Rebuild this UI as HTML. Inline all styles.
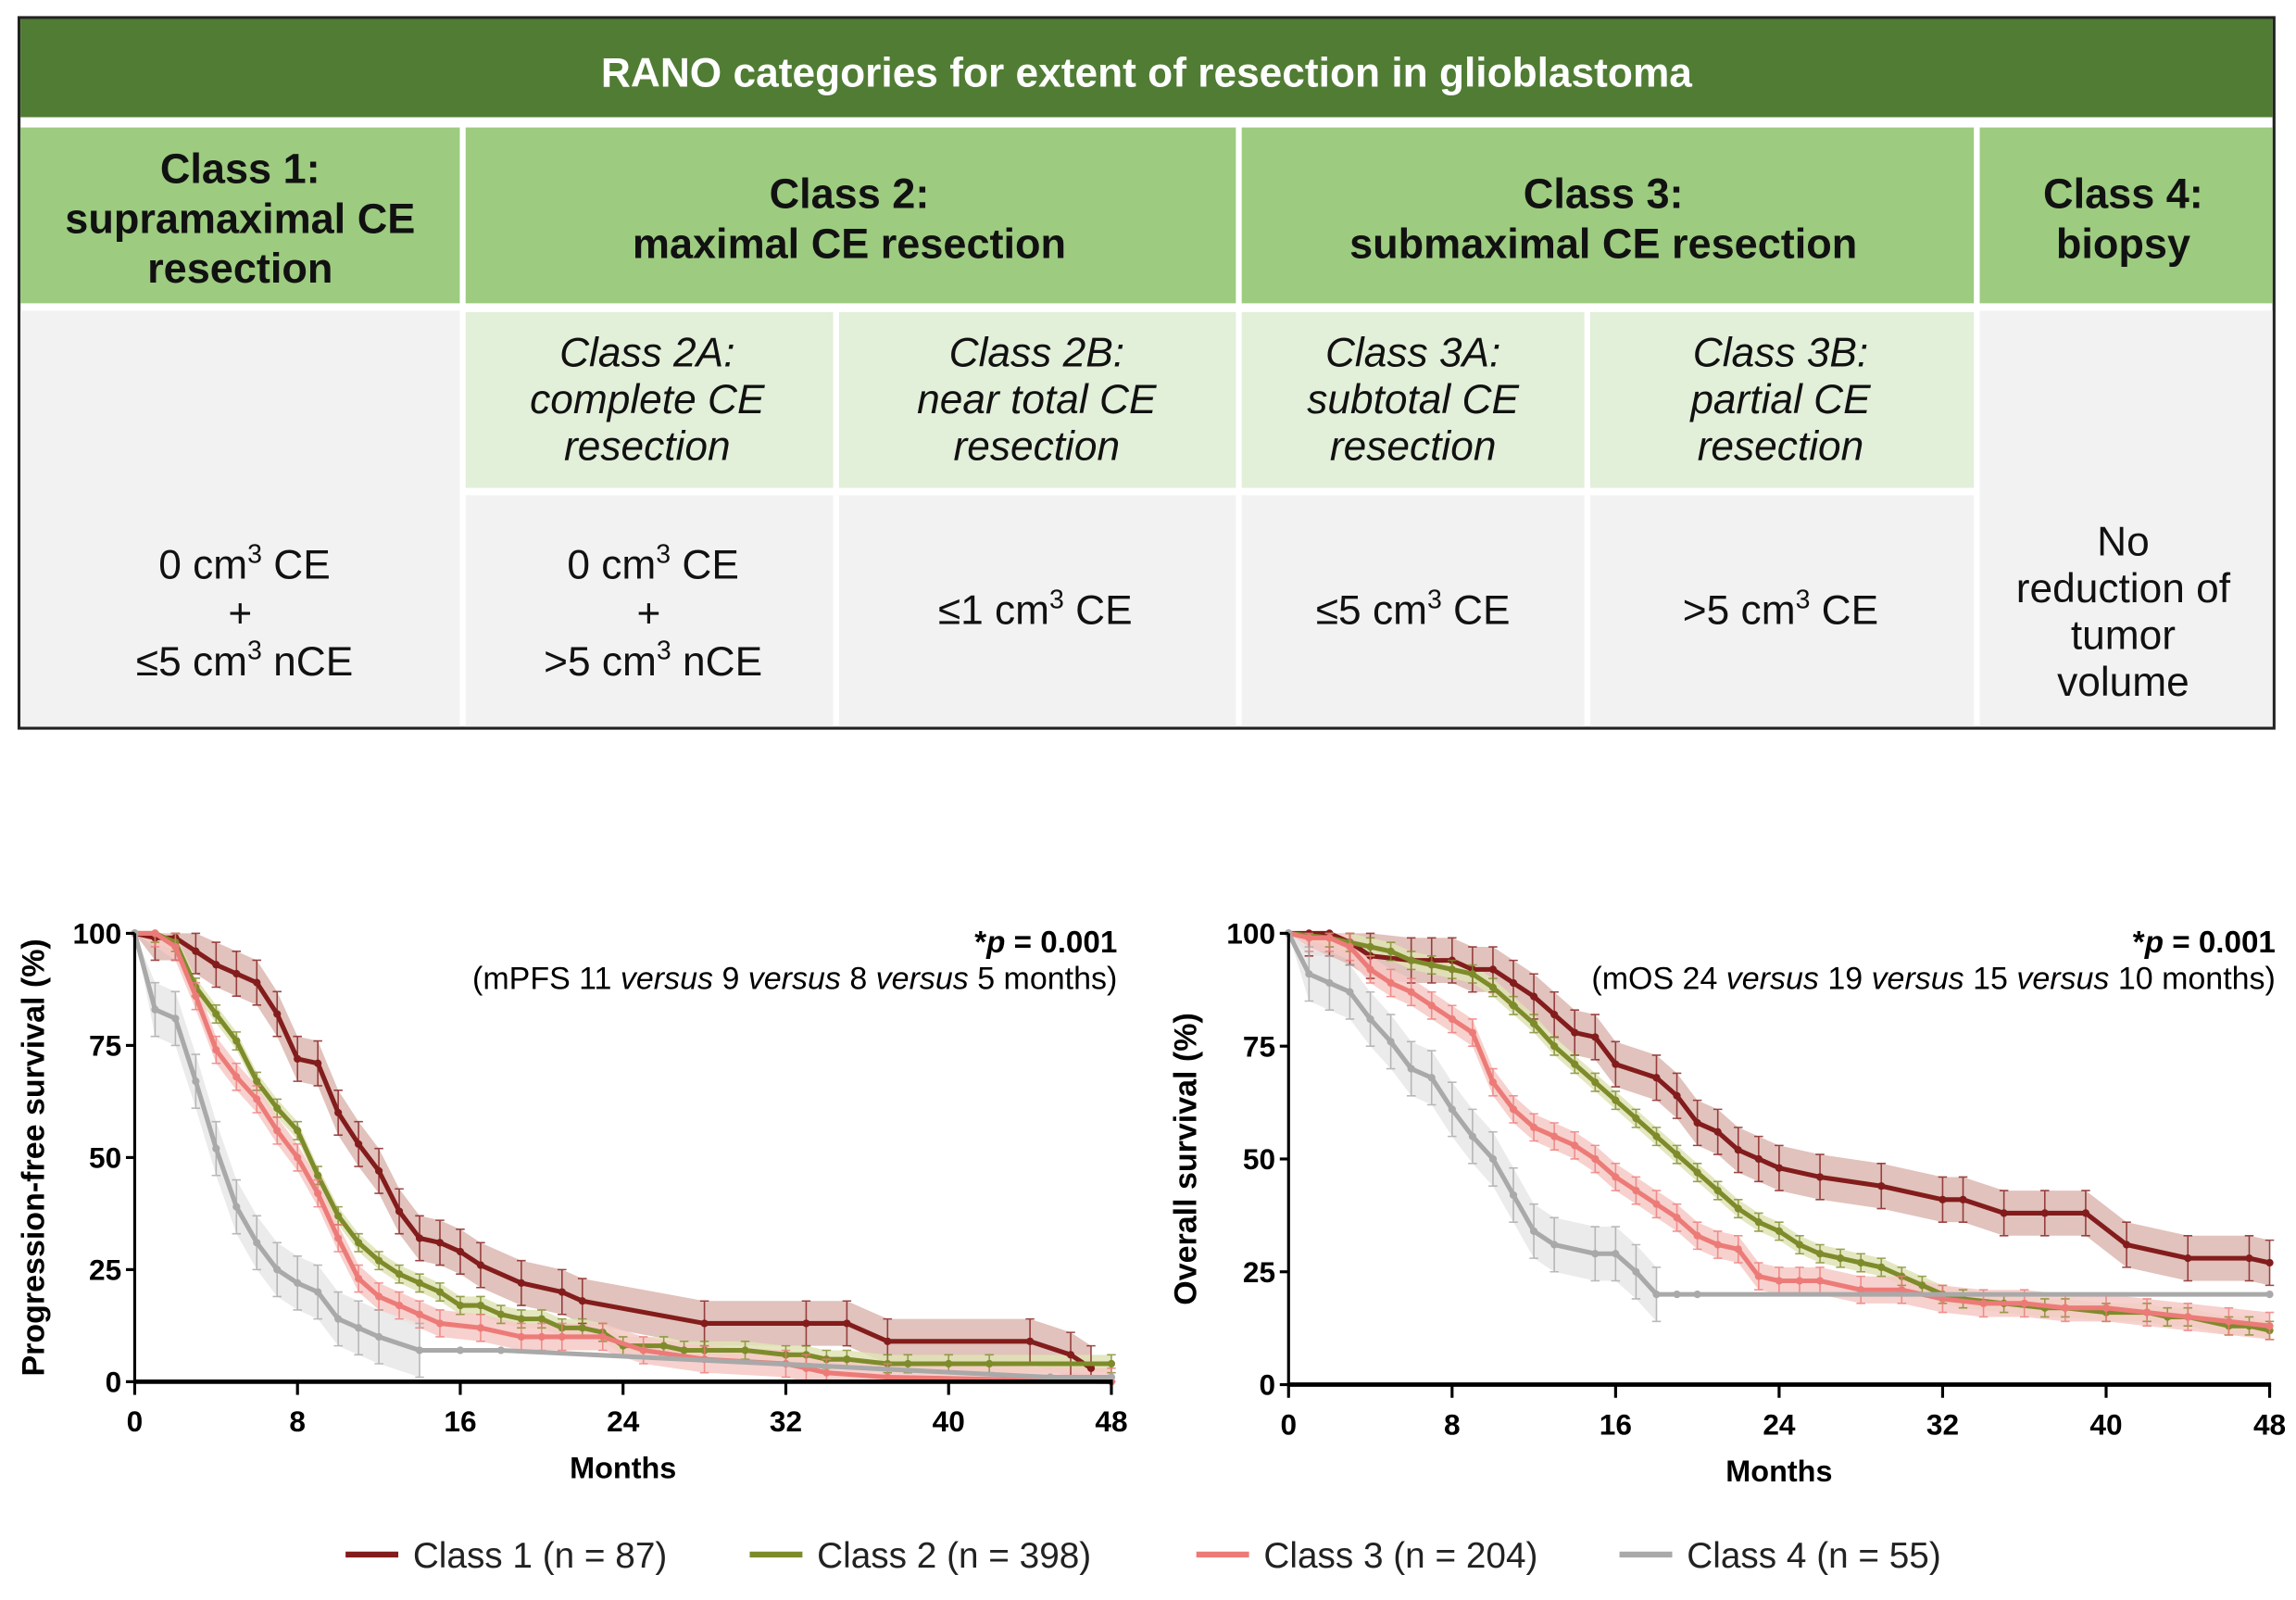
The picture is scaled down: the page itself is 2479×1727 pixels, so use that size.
<!DOCTYPE html>
<html><head><meta charset="utf-8"><style>
html,body{margin:0;padding:0;background:#fff;}
svg{display:block;font-family:"Liberation Sans",sans-serif;}
</style></head><body>
<svg id="root" width="2479" height="1727" viewBox="0 0 1568 1092" preserveAspectRatio="none" xmlns="http://www.w3.org/2000/svg">
<g>
<rect x="13" y="12" width="1540" height="485" fill="#fff" stroke="#222" stroke-width="2"/>
<rect x="14" y="13" width="1538" height="67" fill="#507c34"/>
<text x="783" y="59" text-anchor="middle" font-size="28" font-weight="bold" fill="#fff">RANO categories for extent of resection in glioblastoma</text>
<rect x="14" y="87" width="300" height="120" fill="#9dcb80"/>
<rect x="318" y="87" width="526" height="120" fill="#9dcb80"/>
<rect x="848" y="87" width="500" height="120" fill="#9dcb80"/>
<rect x="1352" y="87" width="200" height="120" fill="#9dcb80"/>
<rect x="14" y="212" width="300" height="284" fill="#f2f2f2"/>
<rect x="1352" y="212" width="200" height="284" fill="#f2f2f2"/>
<rect x="318" y="213" width="251" height="120" fill="#e2efd9"/>
<rect x="573" y="213" width="271" height="120" fill="#e2efd9"/>
<rect x="848" y="213" width="234" height="120" fill="#e2efd9"/>
<rect x="1086" y="213" width="262" height="120" fill="#e2efd9"/>
<rect x="318" y="338" width="251" height="158" fill="#f2f2f2"/>
<rect x="573" y="338" width="271" height="158" fill="#f2f2f2"/>
<rect x="848" y="338" width="234" height="158" fill="#f2f2f2"/>
<rect x="1086" y="338" width="262" height="158" fill="#f2f2f2"/>
<g font-size="28.5" font-weight="bold" fill="#111" text-anchor="middle">
<text x="164" y="125"><tspan x="164">Class 1:</tspan><tspan x="164" dy="34">supramaximal CE</tspan><tspan x="164" dy="34">resection</tspan></text>
<text x="580" y="142"><tspan x="580">Class 2:</tspan><tspan x="580" dy="34">maximal CE resection</tspan></text>
<text x="1095" y="142"><tspan x="1095">Class 3:</tspan><tspan x="1095" dy="34">submaximal CE resection</tspan></text>
<text x="1450" y="142"><tspan x="1450">Class 4:</tspan><tspan x="1450" dy="34">biopsy</tspan></text>
</g>
<g font-size="28" font-style="italic" fill="#111" text-anchor="middle">
<text x="442" y="250"><tspan x="442">Class 2A:</tspan><tspan x="442" dy="32">complete CE</tspan><tspan x="442" dy="32">resection</tspan></text>
<text x="708" y="250"><tspan x="708">Class 2B:</tspan><tspan x="708" dy="32">near total CE</tspan><tspan x="708" dy="32">resection</tspan></text>
<text x="965" y="250"><tspan x="965">Class 3A:</tspan><tspan x="965" dy="32">subtotal CE</tspan><tspan x="965" dy="32">resection</tspan></text>
<text x="1216" y="250"><tspan x="1216">Class 3B:</tspan><tspan x="1216" dy="32">partial CE</tspan><tspan x="1216" dy="32">resection</tspan></text>
</g>
<g font-size="28" fill="#111" text-anchor="middle">
<text x="167" y="395"><tspan x="167">0 cm<tspan font-size="18" dy="-11">3</tspan><tspan dy="11"> CE</tspan></tspan><tspan x="164" dy="33">+</tspan><tspan x="167" dy="33">≤5 cm<tspan font-size="18" dy="-11">3</tspan><tspan dy="11"> nCE</tspan></tspan></text>
<text x="446" y="395"><tspan x="446">0 cm<tspan font-size="18" dy="-11">3</tspan><tspan dy="11"> CE</tspan></tspan><tspan x="443" dy="33">+</tspan><tspan x="446" dy="33">&gt;5 cm<tspan font-size="18" dy="-11">3</tspan><tspan dy="11"> nCE</tspan></tspan></text>
<text x="707" y="426">≤1 cm<tspan font-size="18" dy="-11">3</tspan><tspan dy="11"> CE</tspan></text>
<text x="965" y="426">≤5 cm<tspan font-size="18" dy="-11">3</tspan><tspan dy="11"> CE</tspan></text>
<text x="1216" y="426">&gt;5 cm<tspan font-size="18" dy="-11">3</tspan><tspan dy="11"> CE</tspan></text>
<text x="1450" y="379"><tspan x="1450">No</tspan><tspan x="1450" dy="32">reduction of</tspan><tspan x="1450" dy="32">tumor</tspan><tspan x="1450" dy="32">volume</tspan></text>
</g>
</g>
<g id="pfs"></g>
<g id="os"></g>
<g id="legend"></g>
</svg>
<script>
const months = [0,8,16,24,32,40,48];
const yTicks = [0,25,50,75,100];
const classNames = ["Class 1 (n = 87)","Class 2 (n = 398)","Class 3 (n = 204)","Class 4 (n = 55)"];
const colors = ["#831c1c","#7e8b2b","#ec7b78","#a9a9a9"];
const bandColors = ["#dcb7b0","#dfe3b5","#f6c9c6","#e8e8e8"];
const ciHalf = [5,2,3,6];
const pfsCiEnd = [48,48,48,15];
const osCiEnd = [48,48,48,18];

const pfsC1x=[0,1,2,3,4,5,6,7,8,9,10,11,12,13,14,15,16,17,19,21,22,28,33,35,37,44,46,47];
const pfsC1y=[100,99,99,96,93,91,89,82,72,71,60,53,47,38,32,31,29,26,22,20,18,13,13,13,9,9,6,3];
const pfsC2x=[0,1,2,3,4,5,6,7,8,9,10,11,12,13,14,15,16,17,18,19,20,21,22,23,24,26,27,28,30,32,33,34,35,37,38,40,42,48];
const pfsC2y=[100,100,98,88,82,76,67,61,56,46,37,31,27,24,22,20,17,17,15,14,14,12,12,11,8,8,7,7,7,6,6,5,5,4,4,4,4,4];
const pfsC3x=[0,1,2,3,4,5,6,7,8,9,10,11,12,13,14,15,17,19,20,21,23,25,28,32,33,34,37,48];
const pfsC3y=[100,100,97,86,74,68,63,56,50,42,32,23,19,17,15,13,12,10,10,10,10,7,5,4,3,2,1,0];
const pfsC4x=[0,1,2,3,4,5,6,7,8,9,10,11,12,14,16,18,45,48];
const pfsC4y=[100,83,81,67,52,39,31,25,22,20,14,12,10,7,7,7,1,1];

const osC1x=[0,1,2,3,4,6,7,8,9,10,11,12,13,14,15,16,18,19,20,21,22,23,24,26,29,32,33,35,37,39,41,44,47,48];
const osC1y=[100,100,100,98,95,94,94,94,92,92,89,86,82,78,77,71,68,64,58,56,52,50,48,46,44,41,41,38,38,38,31,28,28,27];
const osC2x=[0,2,3,4,5,6,7,8,9,10,11,12,13,14,15,16,17,18,19,20,21,22,23,24,25,26,27,28,29,30,31,32,33,35,37,38,40,42,43,44,46,47,48];
const osC2y=[100,99,98,97,96,94,93,92,91,88,84,80,75,71,67,63,59,55,51,47,43,39,36,34,31,29,28,27,26,24,22,20,19,18,17,17,16,16,15,15,13,13,12];
const osC3x=[0,1,2,3,4,5,6,7,8,9,10,11,12,13,14,15,16,17,18,19,20,21,22,23,24,25,26,28,30,32,34,36,38,40,42,44,46,48];
const osC3y=[100,99,99,97,92,89,87,84,81,78,67,61,57,55,53,50,46,43,40,37,33,31,30,24,23,23,23,21,21,19,18,18,17,17,16,15,14,13];
const osC4x=[0,1,2,3,4,5,6,7,8,9,10,11,12,13,15,16,17,18,19,20,48];
const osC4y=[100,91,89,87,81,76,70,68,61,55,50,42,34,31,29,29,25,20,20,20,20];

const NS="http://www.w3.org/2000/svg";
function mk(tag,attrs,parent){const e=document.createElementNS(NS,tag);for(const k in attrs)e.setAttribute(k,attrs[k]);parent.appendChild(e);return e;}

function drawChart(g,o){
  const xS=m=>o.x0+(o.x1-o.x0)*m/48;
  const yS=v=>o.y0+(o.y100-o.y0)*v/100;
  o.series.forEach((s,i)=>{
    const idx=s[0].map((m,j)=>j).filter(j=>s[0][j]<=o.ciEnd[i]);
    const xs=s[0],ys=s[1],h=ciHalf[i];
    let up=idx.map(j=>xS(xs[j])+","+yS(Math.min(100,ys[j]+h*(j?1:0)))).join(" ");
    let dn=idx.map(j=>xS(xs[j])+","+yS(Math.max(0,ys[j]-h*(j?1:0)))).reverse().join(" ");
    const band=mk("polygon",{points:up+" "+dn,fill:bandColors[i],opacity:0.85},g);
    
    
  });
  o.series.forEach((s,i)=>{
    const xs=s[0],ys=s[1],h=ciHalf[i];
    const sg=mk("g",{},g);
    
    
    xs.forEach((m,j)=>{ if(j===0||m>o.ciEnd[i])return;
      const x=xS(m),a=yS(Math.min(100,ys[j]+h)),b=yS(Math.max(0,ys[j]-h));
      mk("path",{d:`M${x},${a}V${b}M${x-3},${a}H${x+3}M${x-3},${b}H${x+3}`,stroke:colors[i],"stroke-width":1,fill:"none",opacity:0.8},sg);
    });
    const line=mk("polyline",{points:xs.map((m,j)=>xS(m)+","+yS(ys[j])).join(" "),fill:"none",stroke:colors[i],"stroke-width":3.2,"stroke-linejoin":"round"},sg);
    
    
    xs.forEach((m,j)=>{const c=mk("circle",{cx:xS(m),cy:yS(ys[j]),r:2.6,fill:colors[i]},sg);
      
      });
  });
  const ax=mk("g",{},g);
  
  
  mk("line",{x1:o.x0,y1:o.y0,x2:o.x1+1,y2:o.y0,stroke:"#000","stroke-width":3},ax);
  mk("line",{x1:o.x0,y1:o.y0+1,x2:o.x0,y2:o.y100,stroke:"#000","stroke-width":2},ax);
  yTicks.forEach(v=>{mk("line",{x1:o.x0-6,x2:o.x0,y1:yS(v),y2:yS(v),stroke:"#000","stroke-width":2},ax);
    const t=mk("text",{x:o.x0-9,y:yS(v)+7,"text-anchor":"end","font-size":20,"font-weight":"bold"},ax);t.textContent=v;
    });
  months.forEach(m=>{mk("line",{x1:xS(m),x2:xS(m),y1:o.y0,y2:o.y0+9,stroke:"#000","stroke-width":2},ax);
    const t=mk("text",{x:xS(m),y:o.y0+34,"text-anchor":"middle","font-size":20,"font-weight":"bold"},ax);t.textContent=m;
    });
  const xt=mk("text",{x:(o.x0+o.x1)/2,y:o.y0+66,"text-anchor":"middle","font-size":20.5,"font-weight":"bold"},ax);xt.textContent="Months";
  
  const yt=mk("text",{x:0,y:0,"text-anchor":"middle","font-size":21.5,"font-weight":"bold",transform:`translate(${o.ytx},${(o.y0+o.y100)/2}) rotate(-90)`},ax);yt.textContent=o.ylabel;
  
  const p=mk("text",{x:o.x1+4,y:o.y100+13,"text-anchor":"end","font-size":21,"font-weight":"bold"},g);
  p.innerHTML='*<tspan font-style="italic">p</tspan> = 0.001';
  
  const md=mk("text",{x:o.x1+4,y:o.y100+38,"text-anchor":"end","font-size":21.5},g);
  md.innerHTML=o.median;
  
}
drawChart(document.getElementById("pfs"),{x0:92,x1:759,y0:943,y100:637,ytx:30,ciEnd:pfsCiEnd,ylabel:"Progression-free survival (%)",
  median:'(mPFS 11 <tspan font-style="italic">versus</tspan> 9 <tspan font-style="italic">versus</tspan> 8 <tspan font-style="italic">versus</tspan> 5 months)',
  series:[[pfsC1x,pfsC1y],[pfsC2x,pfsC2y],[pfsC3x,pfsC3y],[pfsC4x,pfsC4y]]});
drawChart(document.getElementById("os"),{x0:880,x1:1550,y0:945,y100:637,ytx:817,ciEnd:osCiEnd,ylabel:"Overall survival (%)",
  median:'(mOS 24 <tspan font-style="italic">versus</tspan> 19 <tspan font-style="italic">versus</tspan> 15 <tspan font-style="italic">versus</tspan> 10 months)',
  series:[[osC1x,osC1y],[osC2x,osC2y],[osC3x,osC3y],[osC4x,osC4y]]});
const lg=document.getElementById("legend");
const lx=[236,512,817,1106];
classNames.forEach((n,i)=>{
  const e=mk("g",{},lg);
  
  
  mk("line",{x1:lx[i],x2:lx[i]+36,y1:1061,y2:1061,stroke:colors[i],"stroke-width":4},e);
  const t=mk("text",{x:lx[i]+46,y:1070,"font-size":24.5,fill:"#222"},e);t.textContent=n;
});
</script>
</body></html>
